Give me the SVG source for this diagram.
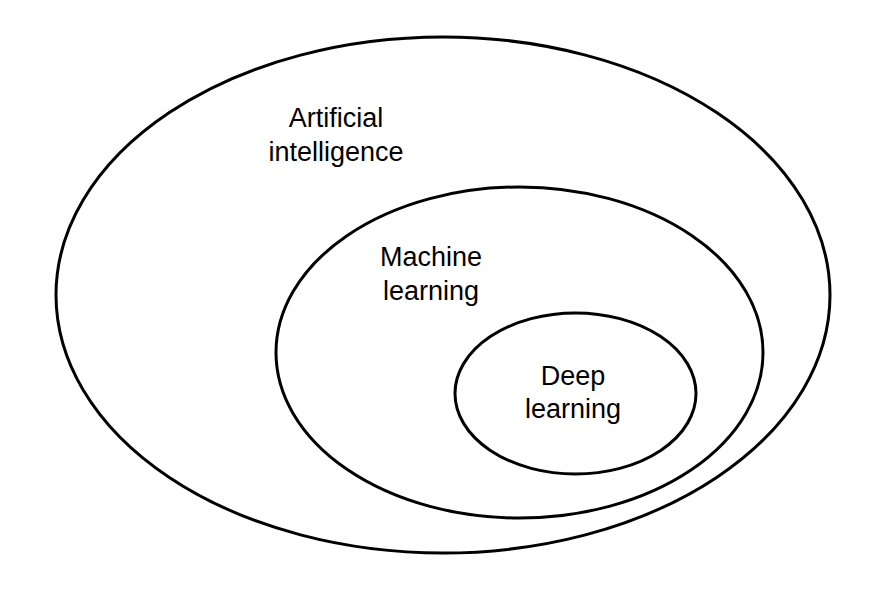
<svg xmlns="http://www.w3.org/2000/svg" width="874" height="590" viewBox="0 0 874 590">
<style>
.e{fill:none;stroke:#000;stroke-width:3}
.t{font-family:"Liberation Sans",Arial,sans-serif;font-size:27px;fill:#000;text-anchor:middle}
</style>
<rect width="874" height="590" fill="#fff"/>
<g id="ai">
<ellipse class="e" cx="443" cy="295" rx="387" ry="258"/>
<text class="t" x="336" y="127">Artificial</text>
<text class="t" x="336" y="161">intelligence</text>
</g>
<g id="ml">
<ellipse class="e" cx="519.5" cy="352.5" rx="243.5" ry="165.5"/>
<text class="t" x="431" y="266">Machine</text>
<text class="t" x="431" y="300">learning</text>
</g>
<g id="dl">
<ellipse class="e" cx="575.5" cy="393.5" rx="120.5" ry="80.5"/>
<text class="t" x="573" y="385">Deep</text>
<text class="t" x="573" y="418">learning</text>
</g>
<g id="connectors"/>
</svg>
